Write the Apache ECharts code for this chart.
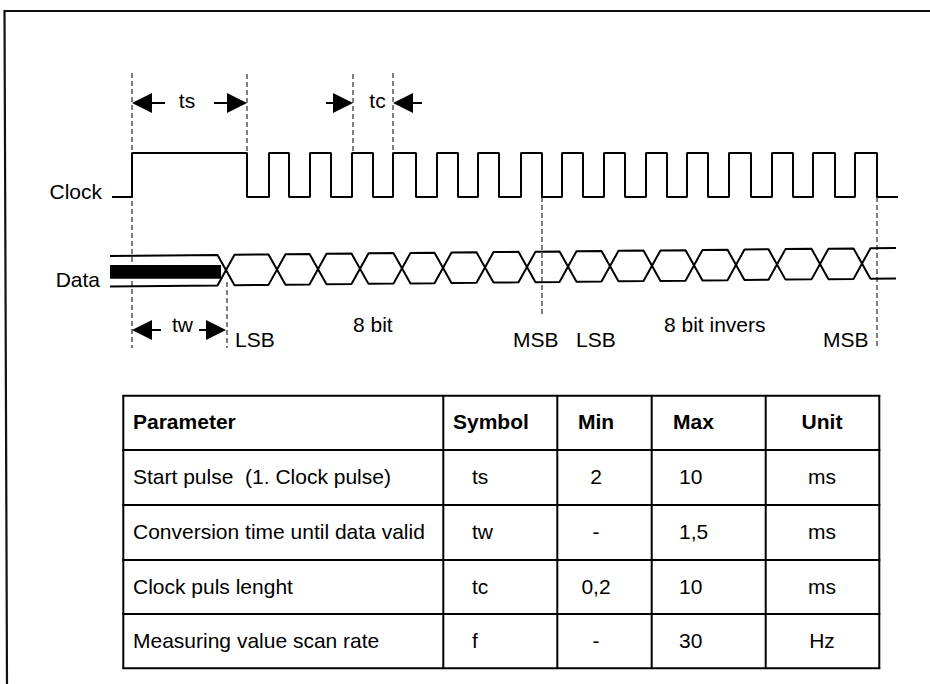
<!DOCTYPE html>
<html>
<head>
<meta charset="utf-8">
<script src="https://cdn.jsdelivr.net/npm/echarts@6/dist/echarts.min.js"></script>
<style>
html,body{margin:0;padding:0;background:#fff;}
#c{width:930px;height:684px;}
</style>
</head>
<body>
<div id="c"></div>
<script>
// ---------------- DATA ----------------
// clock signal: start/end of trace and every edge time (rise, fall, rise, fall, ...)
const clockStart = 112;
const clockEnd = 898;
const clockEdges = [132, 247, 269, 289, 310, 331, 352, 373, 393, 416, 437, 458, 478, 499, 521, 542,
                    562, 583, 604, 625, 646, 667, 687, 708, 729, 751, 772, 793, 813, 835, 855, 877];
// data bus: start/end of trace and bit-change (crossing) times
const busStart = 110;
const busEnd = 896;
const busUndefinedEnd = 221;
const busCrossings = [226, 277, 318, 360, 402, 443, 485, 527, 568, 610, 652, 694, 736, 777, 820, 862];
// dashed reference markers (time)
const guideTimes = [132, 247, 353, 393, 227, 542, 877];
// timing parameters shown with arrows
const timingNames = ['ts', 'tc', 'tw'];
const timingFrom = [132, 353, 132];
const timingTo = [247, 393, 226];
// bit annotations
const bitLabels = ['LSB', '8 bit', 'MSB', 'LSB', '8 bit invers', 'MSB'];
// signal names
const signalNames = ['Clock', 'Data'];
// table
const tableHeader = ['Parameter', 'Symbol', 'Min', 'Max', 'Unit'];
const paramNames = ['Start pulse  (1. Clock pulse)', 'Conversion time until data valid', 'Clock puls lenght', 'Measuring value scan rate'];
const paramSymbols = ['ts', 'tw', 'tc', 'f'];
const paramMin = ['2', '-', '0,2', '-'];
const paramMax = ['10', '1,5', '10', '30'];
const paramUnit = ['ms', 'ms', 'ms', 'Hz'];

// ---------------- LAYOUT / STYLE ----------------
const FONT = '"Liberation Sans", Arial, Helvetica, sans-serif';
const FS = 21;
const clockHigh = 153, clockLow = 197;
const busTop0 = 256, busSlope = 8 / 786, busHeight = 30.5, busHalfEdge = 8.5;
const busTop = x => busTop0 - (x - busStart) * busSlope;
const busBottom = x => busTop(x) + busHeight;
const guideTop = [73, 74, 74, 73, 282, 197, 197];
const guideBottom = [348, 153, 152, 152, 348, 315, 348];
const timingY = [103, 103, 330];
const timingLabelX = [187, 377.5, 182.5];
const timingLabelY = [100, 100, 324.5];
const timingOutward = [true, false, true];
const timingShaft = [[13, 13], [7, 9], [9, 7]];
const headLen = 20, headHalf = 10;
const bitLabelX = [235, 353, 513, 576, 664, 823];
const bitLabelY = [339.5, 324.5, 339.5, 339.5, 324.5, 339.5];
const signalLabelX = [102, 100];
const signalLabelY = [191, 279];
const colX = [123.3, 443.3, 557.3, 651.7, 765.7, 879.3];
const rowY = [395.7, 450, 505, 560, 614, 668.3];

// ---------------- BUILD SERIES DATA ----------------
const clockPts = [[clockStart, clockLow]];
let lvl = clockLow;
clockEdges.forEach(t => {
  clockPts.push([t, lvl]);
  lvl = (lvl === clockLow) ? clockHigh : clockLow;
  clockPts.push([t, lvl]);
});
clockPts.push([clockEnd, lvl]);

function busPath(startTop) {
  let top = startTop;
  const pts = [[busStart, top ? busTop(busStart) : busBottom(busStart)]];
  busCrossings.forEach(c => {
    const a = c - busHalfEdge, b = c + busHalfEdge;
    pts.push([a, top ? busTop(a) : busBottom(a)]);
    top = !top;
    pts.push([b, top ? busTop(b) : busBottom(b)]);
  });
  pts.push([busEnd, top ? busTop(busEnd) : busBottom(busEnd)]);
  return pts;
}
const busA = busPath(true);
const busB = busPath(false);

const guideData = guideTimes.map((t, i) => [t, guideTop[i], guideBottom[i]]);
const timingData = timingNames.map((n, i) => [timingFrom[i], timingTo[i], timingY[i], i]);
const labelData = [];
signalNames.forEach((s, i) => labelData.push({value: [signalLabelX[i], signalLabelY[i]], name: s, align: 'right'}));
bitLabels.forEach((s, i) => labelData.push({value: [bitLabelX[i], bitLabelY[i]], name: s, align: 'left'}));
timingNames.forEach((s, i) => labelData.push({value: [timingLabelX[i], timingLabelY[i]], name: s, align: 'center'}));

// ---------------- TABLE (graphic) ----------------
const graphics = [];
const lineStyle = {stroke: '#000', lineWidth: 2};
rowY.forEach(y => graphics.push({type: 'line', shape: {x1: colX[0] - 1, y1: y, x2: colX[5] + 1, y2: y}, style: lineStyle, silent: true}));
colX.forEach(x => graphics.push({type: 'line', shape: {x1: x, y1: rowY[0], x2: x, y2: rowY[5]}, style: lineStyle, silent: true}));
function txt(text, x, y, align, bold) {
  graphics.push({type: 'text', x: x, y: y, silent: true,
    style: {text: text, fill: '#000', font: (bold ? 'bold ' : '') + FS + 'px ' + FONT,
            fontSize: FS, fontFamily: FONT, fontWeight: bold ? 'bold' : 'normal',
            align: align, textAlign: align, verticalAlign: 'middle', textVerticalAlign: 'middle'}});
}
const headX = [133, 453, 596, 673, 822];
const headAlign = ['left', 'left', 'center', 'left', 'center'];
const bodyX = [133, 472, 596, 679, 822];
const bodyAlign = ['left', 'left', 'center', 'left', 'center'];
tableHeader.forEach((h, j) => txt(h, headX[j], (rowY[0] + rowY[1]) / 2 - 1, headAlign[j], true));
const cols = [paramNames, paramSymbols, paramMin, paramMax, paramUnit];
for (let r = 0; r < paramNames.length; r++) {
  const yc = (rowY[r + 1] + rowY[r + 2]) / 2 - 1;
  cols.forEach((col, j) => txt(col[r], bodyX[j], yc, bodyAlign[j], false));
}
// outer frame
graphics.push({type: 'polyline', shape: {points: [[7, 684], [4.5, 11], [930, 11]]}, style: {stroke: '#111', lineWidth: 2.2, fill: null}, silent: true});

// ---------------- CHART ----------------
const chart = echarts.init(document.getElementById('c'), null, {renderer: 'svg', width: 930, height: 684});
chart.setOption({
  animation: false,
  backgroundColor: '#fff',
  grid: {left: 0, right: 0, top: 0, bottom: 0, containLabel: false},
  xAxis: {type: 'value', min: 0, max: 930, show: false},
  yAxis: {type: 'value', min: 0, max: 684, inverse: true, show: false},
  graphic: graphics,
  series: [
    {type: 'line', name: 'Clock', data: clockPts, symbol: 'none', silent: true,
     lineStyle: {color: '#000', width: 2}},
    {type: 'line', name: 'DataA', data: busA, symbol: 'none', silent: true,
     lineStyle: {color: '#000', width: 2}},
    {type: 'line', name: 'DataB', data: busB, symbol: 'none', silent: true,
     lineStyle: {color: '#000', width: 2}},
    {type: 'custom', name: 'undefined', silent: true, data: [[busStart, busUndefinedEnd]],
     renderItem: function (params, api) {
       const x0 = api.value(0), x1 = api.value(1);
       const p0 = api.coord([x0, busTop(x0) + 9]);
       const p1 = api.coord([x1, busBottom(x1) - 6.5]);
       return {type: 'rect', shape: {x: p0[0], y: p0[1], width: p1[0] - p0[0], height: p1[1] - p0[1]}, style: {fill: '#000'}};
     }},
    {type: 'custom', name: 'guides', silent: true, data: guideData,
     renderItem: function (params, api) {
       const a = api.coord([api.value(0), api.value(1)]);
       const b = api.coord([api.value(0), api.value(2)]);
       return {type: 'line', shape: {x1: a[0], y1: a[1], x2: b[0], y2: b[1]},
               style: {stroke: '#000', lineWidth: 1, lineDash: [5, 3]}};
     }},
    {type: 'custom', name: 'timing', silent: true, data: timingData,
     renderItem: function (params, api) {
       const i = api.value(3);
       const a = api.coord([api.value(0), api.value(2)]);
       const b = api.coord([api.value(1), api.value(2)]);
       const y = a[1];
       const out = timingOutward[i];
       const sh = timingShaft[i];
       const ch = [];
       if (out) {
         // left head points left with tip at a, right head points right with tip at b
         ch.push({type: 'polygon', shape: {points: [[a[0], y], [a[0] + headLen, y - headHalf], [a[0] + headLen, y + headHalf]]}, style: {fill: '#000'}});
         ch.push({type: 'line', shape: {x1: a[0] + headLen - 1, y1: y, x2: a[0] + headLen + sh[0], y2: y}, style: {stroke: '#000', lineWidth: 2}});
         ch.push({type: 'polygon', shape: {points: [[b[0], y], [b[0] - headLen, y - headHalf], [b[0] - headLen, y + headHalf]]}, style: {fill: '#000'}});
         ch.push({type: 'line', shape: {x1: b[0] - headLen - sh[1], y1: y, x2: b[0] - headLen + 1, y2: y}, style: {stroke: '#000', lineWidth: 2}});
       } else {
         ch.push({type: 'polygon', shape: {points: [[a[0], y], [a[0] - headLen, y - headHalf], [a[0] - headLen, y + headHalf]]}, style: {fill: '#000'}});
         ch.push({type: 'line', shape: {x1: a[0] - headLen - sh[0], y1: y, x2: a[0] - headLen + 1, y2: y}, style: {stroke: '#000', lineWidth: 2}});
         ch.push({type: 'polygon', shape: {points: [[b[0], y], [b[0] + headLen, y - headHalf], [b[0] + headLen, y + headHalf]]}, style: {fill: '#000'}});
         ch.push({type: 'line', shape: {x1: b[0] + headLen - 1, y1: y, x2: b[0] + headLen + sh[1], y2: y}, style: {stroke: '#000', lineWidth: 2}});
       }
       return {type: 'group', children: ch};
     }},
    {type: 'custom', name: 'labels', silent: true, data: labelData,
     renderItem: function (params, api) {
       const d = labelData[params.dataIndex];
       const p = api.coord([api.value(0), api.value(1)]);
       return {type: 'text', x: p[0], y: p[1],
               style: {text: d.name, fill: '#000', font: FS + 'px ' + FONT, fontSize: FS, fontFamily: FONT,
                       align: d.align, textAlign: d.align, verticalAlign: 'middle', textVerticalAlign: 'middle'}};
     }}
  ]
});
</script>
</body>
</html>
